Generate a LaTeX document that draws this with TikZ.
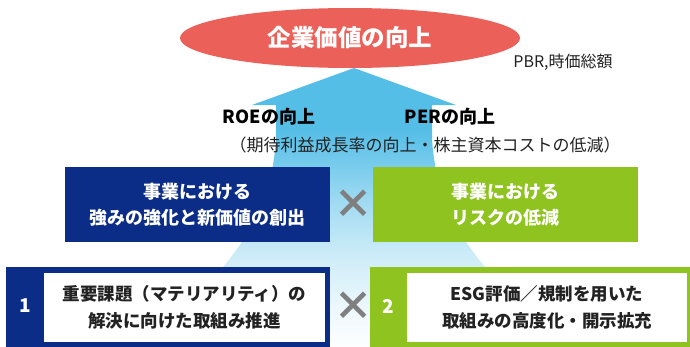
\documentclass[tikz,border=0pt]{standalone}
\usepackage{fontspec}
\setmainfont{Noto Sans CJK JP}
\usetikzlibrary{shapes.geometric}

\definecolor{navy}{HTML}{0B2C87}
\definecolor{leaf}{HTML}{8FC31F}
\definecolor{coral}{HTML}{EB6159}
\definecolor{sky}{HTML}{55BEE7}
\definecolor{crossgray}{HTML}{7F7F7F}
\definecolor{ink}{HTML}{222222}

\pgfdeclareverticalshading{skyfade}{100bp}{color(0bp)=(white); color(25bp)=(white); color(33bp)=(sky!12); color(42bp)=(sky!30); color(51bp)=(sky!55); color(58bp)=(sky!80); color(64bp)=(sky); color(100bp)=(sky)}

\begin{document}
\begin{tikzpicture}[x=1pt, y=-1pt,
	bluebox/.style={rectangle, fill=navy, text=white, inner sep=0pt, minimum width=265pt, minimum height=75pt, align=center, font=\fontsize{18}{26}\selectfont\bfseries},
	greenbox/.style={bluebox, fill=leaf},
	outerbox/.style={rectangle, inner sep=0pt, minimum width=324pt, minimum height=84pt},
	issue/.style={rectangle, fill=white, text=ink, inner sep=0pt, minimum width=281pt, minimum height=69pt, align=center, font=\fontsize{17.5}{27}\selectfont\bfseries},
	num/.style={text=white, font=\fontsize{19}{20}\selectfont\bfseries},
	crossmark/.style={text=crossgray, font=\fontsize{40}{40}\selectfont\bfseries},
	gainlabel/.style={text=black, font=\fontsize{18}{20}\selectfont\bfseries}]
	\useasboundingbox (0,0) rectangle (690,346);
	\clip (0,0) rectangle (690,346);
	\shade[shading=skyfade] (354,68) -- (456,105) -- (432,105) -- (432,140)
		.. controls (436,190) and (450,225) .. (485,267) -- (552,350) -- (156,350) -- (223,267)
		.. controls (258,225) and (272,190) .. (276,140) -- (276,105) -- (252,105) -- cycle;
	\node[ellipse, fill=coral, text=white, inner sep=0pt, minimum width=340pt, minimum height=60pt, font=\fontsize{23.5}{28}\selectfont\bfseries] (goal) at (350,38) {企業価値の向上};
	\node[text=ink, font=\fontsize{16}{18}\selectfont] (pbr) at (563,62) {PBR,時価総額};
	\node[gainlabel] (roe) at (269,117) {ROEの向上};
	\node[gainlabel] (per) at (450,117) {PERの向上};
	\node[text=ink, font=\fontsize{17}{20}\selectfont] (drivers) at (425,145) {（期待利益成長率の向上・株主資本コストの低減）};
	\node[bluebox] (strength) at (197.5,204.5) {事業における\\強みの強化と新価値の創出};
	\node[greenbox] (risk) at (505,204.5) {事業における\\リスクの低減};
	\node[crossmark] (cross1) at (353,204) {×};
	\node[outerbox, fill=navy] (frame1) at (168,308.5) {};
	\node[outerbox, fill=leaf] (frame2) at (532,308.5) {};
	\node[issue] (issue1) at (184.5,307.5) {重要課題（マテリアリティ）の\\解決に向けた取組み推進};
	\node[issue, minimum width=280pt] (issue2) at (547,307.5) {ESG評価／規制を用いた\\取組みの高度化・開示拡充};
	\node[num] (num1) at (25,306) {1};
	\node[num] (num2) at (388,306) {2};
	\node[crossmark] (cross2) at (353,306) {×};
\end{tikzpicture}
\end{document}
